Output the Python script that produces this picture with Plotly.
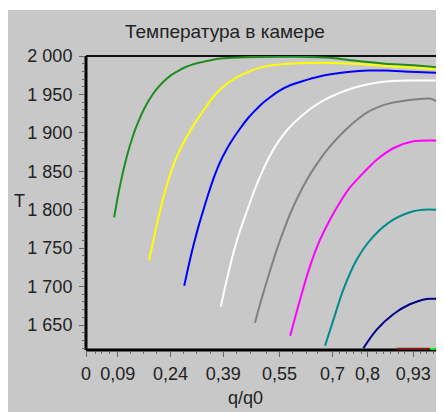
import plotly.graph_objects as go

# ---- data ----
green_q = [0.08, 0.09, 0.10, 0.11, 0.12, 0.13, 0.14, 0.15, 0.165, 0.18, 0.20, 0.22, 0.24, 0.26, 0.28, 0.30, 0.33, 0.36, 0.39, 0.45, 0.6, 0.70, 0.76, 0.85, 0.93, 1.0]
green_T = [1790, 1816, 1838.5, 1858.5, 1876, 1891, 1904.5, 1916, 1931, 1943.5, 1956.5, 1966.5, 1974.5, 1980, 1985, 1988.5, 1992, 1995, 1997, 1998.5, 1999, 1997.5, 1994, 1990, 1988, 1985]

yellow_q = [0.179, 0.19, 0.20, 0.21, 0.22, 0.235, 0.25, 0.27, 0.29, 0.31, 0.335, 0.36, 0.385, 0.41, 0.44, 0.47, 0.50, 0.54, 0.58, 0.63, 0.70, 0.78, 0.85, 0.92, 1.0]
yellow_T = [1734, 1757, 1778, 1798, 1816, 1840, 1860, 1881, 1898, 1913, 1930, 1946, 1958, 1967, 1975, 1981, 1985.5, 1988.5, 1990, 1991, 1991, 1989.5, 1987, 1985, 1982.5]

blue_q = [0.279, 0.29, 0.30, 0.31, 0.32, 0.335, 0.35, 0.365, 0.38, 0.40, 0.42, 0.44, 0.46, 0.48, 0.50, 0.525, 0.55, 0.58, 0.62, 0.66, 0.70, 0.75, 0.80, 0.85, 0.92, 1.0]
blue_T = [1701, 1724, 1744, 1762, 1779, 1802, 1824, 1844, 1861, 1879, 1894, 1907, 1919, 1929, 1938, 1947, 1955, 1962, 1968, 1973, 1976.5, 1979.5, 1981, 1981, 1979.5, 1978]

white_q = [0.383, 0.39, 0.40, 0.41, 0.42, 0.435, 0.45, 0.465, 0.48, 0.50, 0.52, 0.54, 0.56, 0.58, 0.61, 0.64, 0.67, 0.70, 0.74, 0.78, 0.82, 0.87, 0.93, 1.0]
white_T = [1674, 1689, 1709, 1728, 1746, 1769, 1789, 1808, 1827, 1849, 1868, 1884, 1897, 1908, 1921, 1932, 1941, 1948, 1955.5, 1961, 1965, 1967.5, 1968, 1968]

gray_q = [0.48, 0.49, 0.50, 0.515, 0.53, 0.545, 0.56, 0.575, 0.59, 0.61, 0.63, 0.655, 0.68, 0.71, 0.74, 0.77, 0.80, 0.83, 0.86, 0.90, 0.95, 0.98, 0.996]
gray_T = [1653, 1670, 1686, 1709, 1731, 1752, 1771, 1789, 1805, 1824, 1841, 1859, 1875, 1891, 1905, 1917, 1927, 1933.5, 1938, 1941.5, 1944, 1944.5, 1941]

magenta_q = [0.58, 0.608, 0.636, 0.665, 0.693, 0.726, 0.75, 0.788, 0.826, 0.873, 0.93, 0.996]
magenta_T = [1636, 1683, 1726, 1761, 1787, 1813, 1829, 1848, 1865, 1880, 1889, 1890]

teal_q = [0.679, 0.703, 0.731, 0.769, 0.816, 0.873, 0.93, 0.958, 0.996]
teal_T = [1623, 1657, 1696, 1735, 1765, 1787, 1798, 1800, 1800]

navy_q = [0.788, 0.826, 0.873, 0.92, 0.968, 0.996]
navy_T = [1620, 1644, 1664, 1677, 1684, 1684]

red_q = [0.883, 0.977]
red_T = [1619, 1619]

lime_q = [0.977, 1.0]
lime_T = [1619, 1619]

x_tickvals = [0, 0.09, 0.24, 0.39, 0.55, 0.7, 0.8, 0.93]
x_ticktext = ["0", "0,09", "0,24", "0,39", "0,55", "0,7", "0,8", "0,93"]
x_minor = [0.026, 0.045, 0.066, 0.125, 0.162, 0.201, 0.278, 0.314, 0.355, 0.428, 0.466, 0.513,
           0.588, 0.627, 0.659, 0.72, 0.741, 0.759, 0.783, 0.826, 0.845, 0.866, 0.887, 0.906,
           0.949, 0.968, 0.987]
y_tickvals = [1650, 1700, 1750, 1800, 1850, 1900, 1950, 2000]
y_ticktext = ["1 650", "1 700", "1 750", "1 800", "1 850", "1 900", "1 950", "2 000"]

title_text = "Температура в камере"
x_title = "q/q0"
y_title = "T"

series = [
    (green_q, green_T, "#1f8c1f"),
    (yellow_q, yellow_T, "#ffff00"),
    (blue_q, blue_T, "#0000ff"),
    (white_q, white_T, "#ffffff"),
    (gray_q, gray_T, "#808080"),
    (magenta_q, magenta_T, "#ff00ff"),
    (teal_q, teal_T, "#008b8b"),
    (navy_q, navy_T, "#00008b"),
    (red_q, red_T, "#8b1a1a"),
    (lime_q, lime_T, "#00ff00"),
]

BG = "#c8c8c8"
FONT = "Liberation Sans, Arial, sans-serif"
TXT = "#222222"

fig = go.Figure()
for q, T, c in series:
    fig.add_trace(go.Scatter(x=q, y=T, mode="lines", line=dict(color=c, width=2, shape="spline", smoothing=0.8),
                             showlegend=False, hoverinfo="skip"))

# the page body has an 8px margin, so the figure origin sits at (8, 8) of the window
OFF = 8
W, H = 436, 404
L, R, Tm, B = 78, 6, 48, 62
pw, ph = W - L - R, H - Tm - B

def px(x):
    return (x - OFF - L) / pw

def py(y):
    return (H - B - (y - OFF)) / ph

shapes = [
    dict(type="rect", xref="paper", yref="paper", x0=px(8), x1=px(450), y0=py(420), y1=py(10),
         fillcolor=BG, line=dict(width=0), layer="below"),
    dict(type="line", xref="paper", yref="paper", x0=0, x1=1, y0=1, y1=1, line=dict(color="#111", width=2), layer="below"),
    dict(type="line", xref="paper", yref="paper", x0=1, x1=1, y0=0, y1=1, line=dict(color="#111", width=2), layer="below"),
    dict(type="line", xref="paper", yref="paper", x0=0, x1=0, y0=0, y1=1, line=dict(color="#000", width=3), layer="below"),
    dict(type="line", xref="paper", yref="paper", x0=0, x1=1, y0=0, y1=0, line=dict(color="#000", width=3), layer="below"),
]

annotations = [
    dict(text=title_text, xref="paper", yref="paper", x=px(225), y=py(32), showarrow=False,
         xanchor="center", yanchor="middle", font=dict(family=FONT, size=19, color=TXT)),
    dict(text=x_title, xref="paper", yref="paper", x=px(245), y=py(398), showarrow=False,
         xanchor="center", yanchor="middle", font=dict(family=FONT, size=18, color=TXT)),
    dict(text=y_title, xref="paper", yref="paper", x=px(19), y=py(201), showarrow=False,
         xanchor="center", yanchor="middle", font=dict(family=FONT, size=18, color=TXT)),
]

fig.update_layout(
    width=W, height=H,
    margin=dict(l=L, r=R, t=Tm, b=B, pad=0),
    paper_bgcolor="white", plot_bgcolor=BG,
    shapes=shapes, annotations=annotations,
    font=dict(family=FONT, size=18, color=TXT),
    xaxis=dict(range=[0, 1.0], showgrid=False, zeroline=False, showline=False,
               tickmode="array", tickvals=x_tickvals, ticktext=x_ticktext,
               ticks="outside", ticklen=6, tickcolor="#666", tickwidth=1, ticklabelstandoff=1,
               minor=dict(tickmode="array", tickvals=x_minor, ticks="outside", ticklen=3, tickcolor="#666", tickwidth=1),
               tickfont=dict(family=FONT, size=18, color=TXT)),
    yaxis=dict(range=[1617.5, 2000], showgrid=False, zeroline=False, showline=False,
               tickmode="array", tickvals=y_tickvals, ticktext=y_ticktext,
               ticks="outside", ticklen=6, tickcolor="#666", tickwidth=1, ticklabelstandoff=3,
               minor=dict(dtick=10, tick0=1650, ticks="outside", ticklen=3, tickcolor="#666", tickwidth=1),
               tickfont=dict(family=FONT, size=18, color=TXT)),
)

fig.write_html("out.html")
